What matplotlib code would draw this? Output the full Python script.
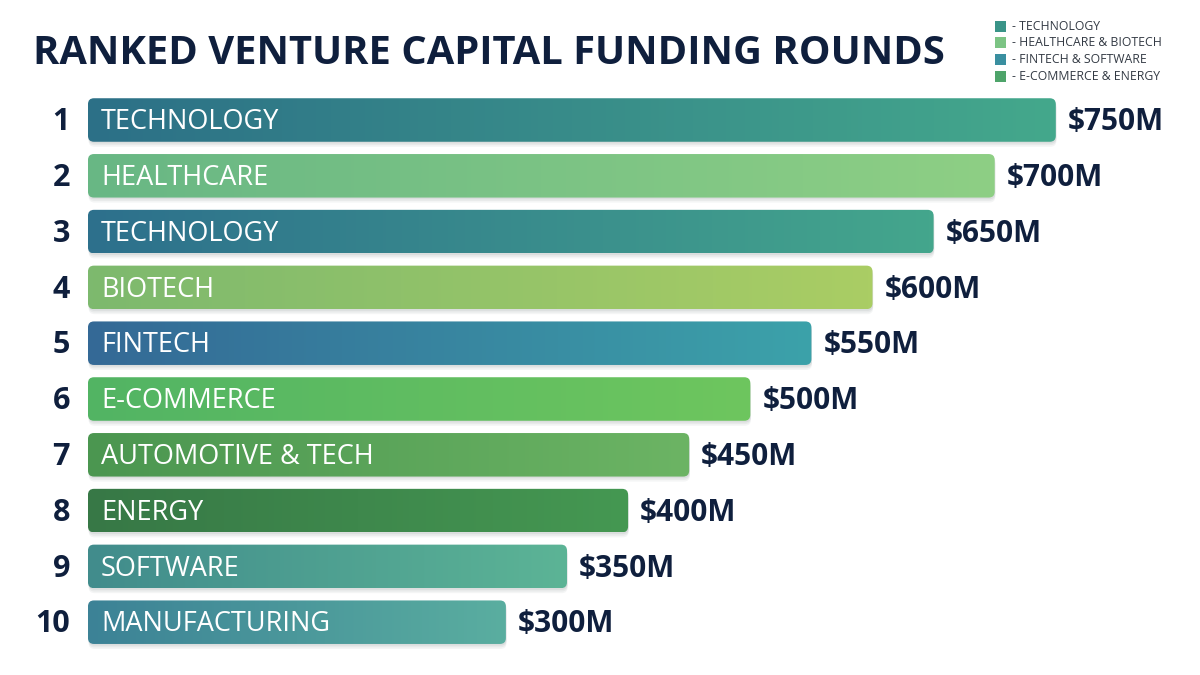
import matplotlib.pyplot as plt
import numpy as np
from matplotlib.patches import FancyBboxPatch, Rectangle
from matplotlib.colors import LinearSegmentedColormap

# data
ranks = [1, 2, 3, 4, 5, 6, 7, 8, 9, 10]
sectors = ['TECHNOLOGY', 'HEALTHCARE', 'TECHNOLOGY', 'BIOTECH', 'FINTECH',
           'E-COMMERCE', 'AUTOMOTIVE & TECH', 'ENERGY', 'SOFTWARE', 'MANUFACTURING']
funding = [750, 700, 650, 600, 550, 500, 450, 400, 350, 300]
value_labels = ['$750M', '$700M', '$650M', '$600M', '$550M',
                '$500M', '$450M', '$400M', '$350M', '$300M']
grad_left = ['#2c7087', '#68b784', '#2d708c', '#7db96e', '#346996',
             '#52b464', '#4b9650', '#377846', '#418c8c', '#3c8296']
grad_right = ['#44a88c', '#8ecf84', '#44a68c', '#aacd64', '#3ca2aa',
              '#6ec65e', '#6cb464', '#459852', '#5cb496', '#5aaea0']
legend_labels = ['- TECHNOLOGY', '- HEALTHCARE & BIOTECH',
                 '- FINTECH & SOFTWARE', '- E-COMMERCE & ENERGY']
legend_colors = ['#3a9488', '#7cc484', '#3a8fa0', '#4ea46a']

navy = '#0f1f3d'
base = -42          # bars start a bit left of zero
bar_h = 0.78
xpx = 1.222         # pixels per $M

fig = plt.figure(figsize=(12, 6.75), dpi=100)
fig.patch.set_facecolor('white')
ax = fig.add_axes([0, 0, 1, 1])
ax.set_xlim(-139.3 / xpx, (1200 - 139.3) / xpx)
ax.set_ylim(1 + 555 / 55.8, 1 - 120 / 55.8)
ax.axis('off')

r_x = 6 / xpx
aspect = (6 / 55.8) / r_x

for r, name, v, lab, c0, c1 in zip(ranks, sectors, funding, value_labels, grad_left, grad_right):
    x0, w = base, v - base
    y0 = r - bar_h / 2
    # soft shadow
    for k, a in [(3, 0.05), (2, 0.06), (1, 0.07)]:
        sh = FancyBboxPatch((x0 + 0.5, y0 + 0.03 * k), w, bar_h,
                            boxstyle=f'round,pad=0,rounding_size={r_x}',
                            mutation_aspect=aspect, fc='#30404a', ec='none',
                            alpha=a, zorder=1)
        ax.add_patch(sh)
    patch = FancyBboxPatch((x0, y0), w, bar_h,
                           boxstyle=f'round,pad=0,rounding_size={r_x}',
                           mutation_aspect=aspect, fc='none', ec='none', zorder=2)
    ax.add_patch(patch)
    cmap = LinearSegmentedColormap.from_list('g', [c0, c1])
    im = ax.imshow(np.linspace(0, 1, 256).reshape(1, -1), cmap=cmap, aspect='auto',
                   extent=(x0, v, y0 + bar_h, y0), zorder=2, interpolation='bilinear')
    im.set_clip_path(patch)
    ax.text(x0 + 13 / xpx, r + 0.04, name, color='white', fontsize=19.5,
            family='Open Sans', va='center', ha='left', zorder=3)
    ax.text(v + 12 / xpx, r + 0.04, lab, color=navy, fontsize=21.5,
            family='Open Sans', fontweight='bold', va='center', ha='left', zorder=3)
    ax.text(base - 18 / xpx, r + 0.04, str(r), color=navy, fontsize=22,
            family='Open Sans', fontweight='bold', va='center', ha='right', zorder=3)

fig.text(33 / 1200, 1 - 54 / 675, 'RANKED VENTURE CAPITAL FUNDING ROUNDS',
         color=navy, fontsize=28.7, family='Open Sans', fontweight='bold',
         va='center', ha='left')

for i, (lab, col) in enumerate(zip(legend_labels, legend_colors)):
    yc = 1 - (26 + i * 16.7) / 675
    fig.patches.append(Rectangle((995 / 1200, yc - 5.5 / 675), 11 / 1200, 11 / 675,
                                 transform=fig.transFigure, fc=col, ec='none'))
    fig.text(1012 / 1200, yc, lab, color='#333a44', fontsize=8.8,
             family='Open Sans', va='center', ha='left')

fig.savefig('out.png', dpi=100, facecolor='white')
